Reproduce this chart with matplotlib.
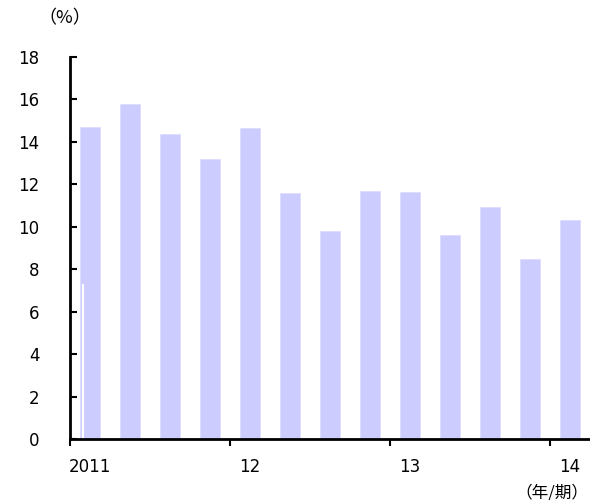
import matplotlib
matplotlib.use("Agg")
import matplotlib.pyplot as plt
import numpy as np

plt.rcParams['font.family'] = ['DejaVu Sans', 'Noto Sans CJK JP']

values = [14.7, 15.8, 14.35, 13.2, 14.65, 11.6, 9.8, 11.7, 11.65, 9.6, 10.95, 8.5, 10.3]
line_series = [7.3]
year_labels = ["2011", "12", "13", "14"]
year_positions = [0, 4, 8, 12]
y_ticks = [0, 2, 4, 6, 8, 10, 12, 14, 16, 18]

fig = plt.figure(figsize=(5.9, 5.0), dpi=100)
ax = fig.add_axes([70/590, 1-439/500, 530/590, (439-57)/500])

x = np.arange(len(values))
ax.bar(x, values, width=0.5, color='#ccccff', edgecolor='#dcdcff', linewidth=0.6, zorder=2)
ax.bar([-0.175], line_series, width=0.03, color='white', linewidth=0, zorder=3)

ax.set_xlim(-0.5, 12.75)
ax.set_ylim(0, 18)
ax.set_yticks(y_ticks)
ax.set_yticklabels([str(t) for t in y_ticks], fontsize=12)

ax.set_xticks(year_positions)
ax.set_xticklabels(year_labels, fontsize=12)
ax.tick_params(axis='x', which='major', length=0, pad=14)
ax.set_xticks([-0.5, 3.5, 7.5, 11.5], minor=True)
ax.tick_params(axis='x', which='minor', direction='out', length=5, width=1.5)
ax.tick_params(axis='y', direction='in', length=5, width=1.5, pad=22)

for s in ['top', 'right']:
    ax.spines[s].set_visible(False)
for s in ['left', 'bottom']:
    ax.spines[s].set_linewidth(2)
    ax.spines[s].set_color('black')
ax.spines['left'].set_zorder(5)
ax.spines['bottom'].set_zorder(5)

cjk = ['Noto Sans CJK JP', 'DejaVu Sans']
fig.text(38/590, 1-18/500, "（%）", fontsize=13, ha='left', va='center', family=cjk)
fig.text(588/590, 1-493/500, "（年/期）", fontsize=12, ha='right', va='center', family=cjk)

fig.savefig("out.png", dpi=100)
